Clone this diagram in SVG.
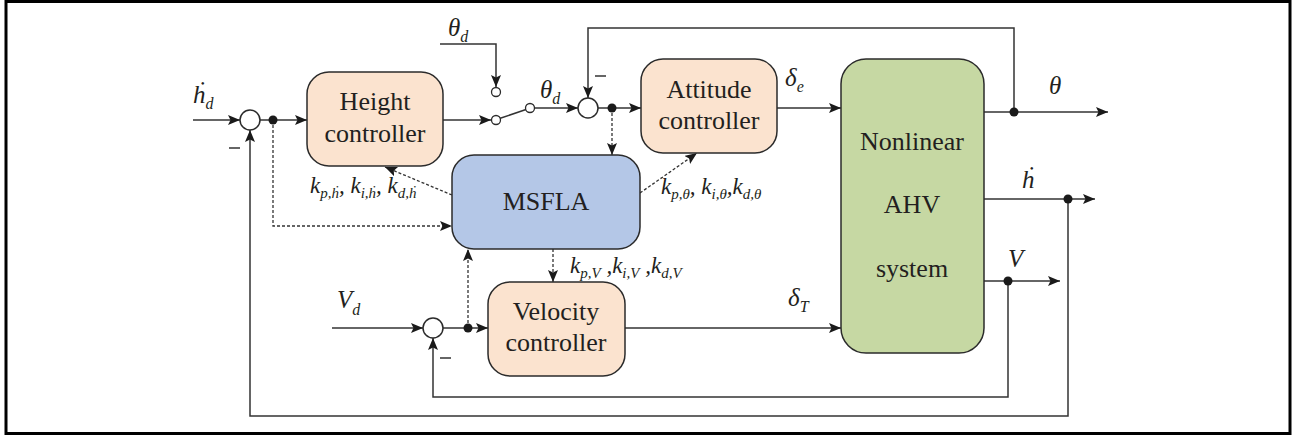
<svg xmlns="http://www.w3.org/2000/svg" width="1297" height="436" viewBox="0 0 1297 436">
  <style>
    .frame { fill: #ffffff; stroke: #000000; stroke-width: 3; }
    .ctrl { fill: #fbe3cf; stroke: #2b2b2b; stroke-width: 1.5; }
    .opt { fill: #b4c7e7; stroke: #2b2b2b; stroke-width: 1.5; }
    .plant { fill: #c6d8a3; stroke: #2b2b2b; stroke-width: 1.5; }
    .sum { fill: #ffffff; stroke: #2b2b2b; stroke-width: 1.5; }
    .pin { fill: #ffffff; stroke: #2b2b2b; stroke-width: 1.3; }
    .dot { fill: #1a1a1a; }
    .wire { fill: none; stroke: #333333; stroke-width: 1.5; }
    .tune { fill: none; stroke: #333333; stroke-width: 1.3; stroke-dasharray: 3 2; }
    .box-label { font-family: "Liberation Serif", "DejaVu Serif", serif; font-size: 26px; fill: #231f20; text-anchor: middle; }
    .sym { font-family: "Liberation Serif", "DejaVu Serif", serif; font-style: italic; font-size: 25px; fill: #231f20; }
    .sub { font-size: 16px; }
    .gain { font-family: "Liberation Serif", "DejaVu Serif", serif; font-style: italic; font-size: 23px; fill: #231f20; }
    .gsub { font-size: 15px; }
  </style>
  <defs>
    <marker id="arrow" viewBox="0 0 12 10" refX="12" refY="5" markerWidth="12" markerHeight="10" markerUnits="userSpaceOnUse" orient="auto">
      <path d="M0,0 L12,5 L0,10 L2.5,5 z" fill="#1a1a1a"/>
    </marker>
  </defs>

  <rect class="frame" x="6" y="1.5" width="1284" height="432"/>

  <!-- signal wiring -->
  <g id="connectors">
    <!-- main forward paths -->
    <path class="wire" d="M193,120 H240" marker-end="url(#arrow)"/>
    <path class="wire" d="M260,120 H307" marker-end="url(#arrow)"/>
    <path class="wire" d="M443,120 H491" marker-end="url(#arrow)"/>
    <path class="wire" d="M499.5,118.5 L526,109.5"/>
    <path class="wire" d="M440,44 H496 V87" marker-end="url(#arrow)"/>
    <path class="wire" d="M534.5,108 H578" marker-end="url(#arrow)"/>
    <path class="wire" d="M598,108 H641" marker-end="url(#arrow)"/>
    <path class="wire" d="M777,108 H841" marker-end="url(#arrow)"/>
    <path class="wire" d="M332,328 H423" marker-end="url(#arrow)"/>
    <path class="wire" d="M443,328 H488" marker-end="url(#arrow)"/>
    <path class="wire" d="M625,328 H841" marker-end="url(#arrow)"/>
    <!-- plant outputs -->
    <path class="wire" d="M984,112 H1108" marker-end="url(#arrow)"/>
    <path class="wire" d="M984,199 H1095" marker-end="url(#arrow)"/>
    <path class="wire" d="M984,281 H1060" marker-end="url(#arrow)"/>
    <!-- feedback loops -->
    <path class="wire" d="M1014,112 V28 H588 V98" marker-end="url(#arrow)"/>
    <path class="wire" d="M1068,199 V416 H250 V130" marker-end="url(#arrow)"/>
    <path class="wire" d="M1008,281 V397 H433 V338" marker-end="url(#arrow)"/>
    <!-- optimiser links -->
    <path class="tune" d="M273,120 V226 H452" marker-end="url(#arrow)"/>
    <path class="tune" d="M612,108 V155" marker-end="url(#arrow)"/>
    <path class="tune" d="M452,195 L385,167" marker-end="url(#arrow)"/>
    <path class="tune" d="M640,193 L697,153" marker-end="url(#arrow)"/>
    <path class="tune" d="M553,249 V282" marker-end="url(#arrow)"/>
    <path class="tune" d="M468,328 V249" marker-end="url(#arrow)"/>
    <!-- branch points -->
    <circle class="dot" cx="273" cy="120" r="4.5"/>
    <circle class="dot" cx="612" cy="108" r="4.5"/>
    <circle class="dot" cx="468" cy="328" r="4.5"/>
    <circle class="dot" cx="1014" cy="112" r="4.5"/>
    <circle class="dot" cx="1068" cy="199" r="4.5"/>
    <circle class="dot" cx="1008" cy="281" r="4.5"/>
  </g>

  <!-- summing junctions -->
  <g id="sum-height">
    <circle class="sum" cx="250" cy="120" r="10"/>
    <line class="wire" x1="229" y1="148" x2="240" y2="148"/>
  </g>
  <g id="sum-attitude">
    <circle class="sum" cx="588" cy="108" r="10"/>
    <line class="wire" x1="595" y1="76" x2="606" y2="76"/>
  </g>
  <g id="sum-velocity">
    <circle class="sum" cx="433" cy="328" r="10"/>
    <line class="wire" x1="440" y1="358" x2="451" y2="358"/>
  </g>

  <!-- mode switch -->
  <g id="switch">
    <circle class="pin" cx="496" cy="120" r="4.5"/>
    <circle class="pin" cx="530" cy="108" r="4.5"/>
    <circle class="pin" cx="496" cy="92" r="4.5"/>
  </g>

  <g id="height-controller">
    <rect class="ctrl" x="307" y="72" width="136" height="94" rx="22"/>
    <text class="box-label" x="375" y="110">Height</text>
    <text class="box-label" x="375" y="142">controller</text>
  </g>

  <g id="attitude-controller">
    <rect class="ctrl" x="641" y="59" width="136" height="94" rx="22"/>
    <text class="box-label" x="709" y="98">Attitude</text>
    <text class="box-label" x="709" y="129">controller</text>
  </g>

  <g id="velocity-controller">
    <rect class="ctrl" x="488" y="282" width="137" height="94" rx="22"/>
    <text class="box-label" x="556" y="320">Velocity</text>
    <text class="box-label" x="556" y="351">controller</text>
  </g>

  <g id="msfla">
    <rect class="opt" x="452" y="155" width="188" height="94" rx="22"/>
    <text class="box-label" x="546" y="210">MSFLA</text>
  </g>

  <g id="ahv-plant">
    <rect class="plant" x="841" y="59" width="143" height="294" rx="25"/>
    <text class="box-label" x="912" y="150">Nonlinear</text>
    <text class="box-label" x="912" y="213">AHV</text>
    <text class="box-label" x="912" y="277">system</text>
  </g>

  <!-- signal labels -->
  <g id="labels">
    <text class="sym" x="193" y="103">ḣ<tspan class="sub" dy="6">d</tspan></text>
    <text class="sym" x="448" y="36">θ<tspan class="sub" dy="6">d</tspan></text>
    <text class="sym" x="540" y="98">θ<tspan class="sub" dy="6">d</tspan></text>
    <text class="sym" x="785" y="86">δ<tspan class="sub" dy="6">e</tspan></text>
    <text class="sym" x="1049" y="94">θ</text>
    <text class="sym" x="1022" y="188">ḣ</text>
    <text class="sym" x="1008" y="267">V</text>
    <text class="sym" x="337" y="308">V<tspan class="sub" dy="7">d</tspan></text>
    <text class="sym" x="788" y="306">δ<tspan class="sub" dy="6">T</tspan></text>
    <text class="gain" x="310" y="193">k<tspan class="gsub" dy="5">p,ḣ</tspan><tspan dy="-5">, k</tspan><tspan class="gsub" dy="5">i,ḣ</tspan><tspan dy="-5">, k</tspan><tspan class="gsub" dy="5">d,ḣ</tspan></text>
    <text class="gain" x="661" y="194">k<tspan class="gsub" dy="5">p,θ</tspan><tspan dy="-5">, k</tspan><tspan class="gsub" dy="5">i,θ</tspan><tspan dy="-5">,k</tspan><tspan class="gsub" dy="5">d,θ</tspan></text>
    <text class="gain" x="570" y="273">k<tspan class="gsub" dy="5">p,V</tspan><tspan dy="-5"> ,k</tspan><tspan class="gsub" dy="5">i,V</tspan><tspan dy="-5"> ,k</tspan><tspan class="gsub" dy="5">d,V</tspan></text>
  </g>
</svg>
